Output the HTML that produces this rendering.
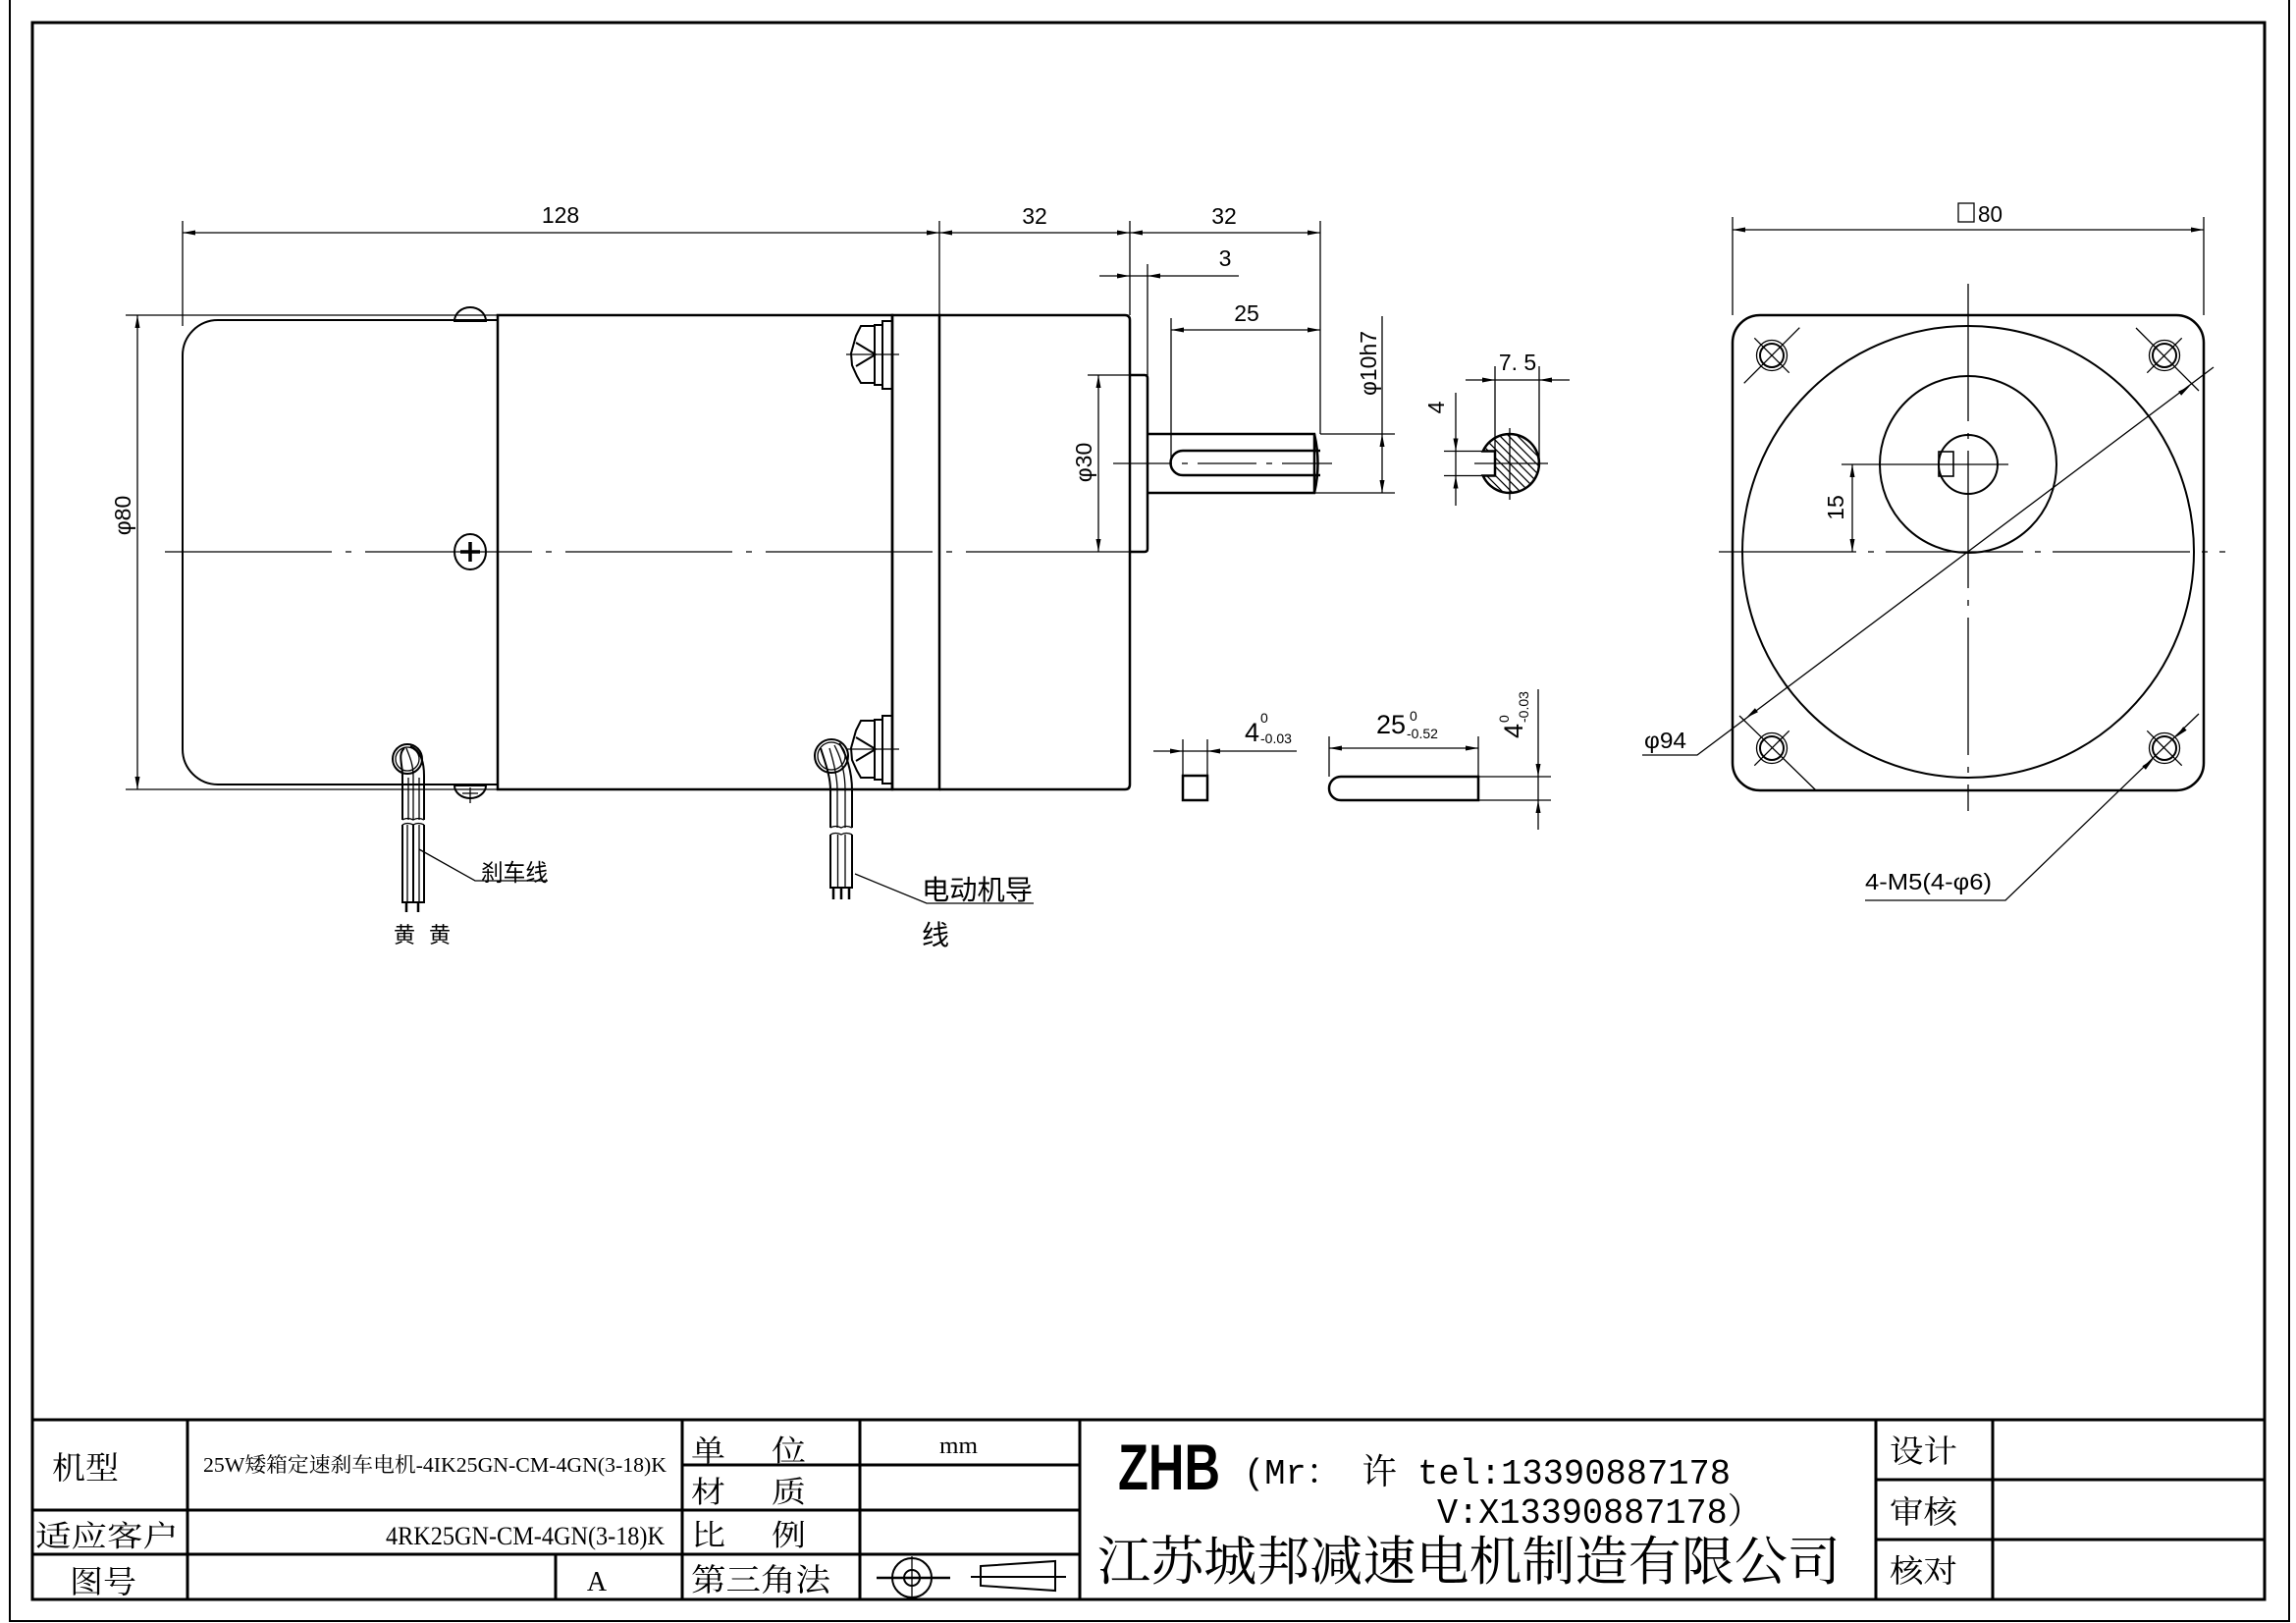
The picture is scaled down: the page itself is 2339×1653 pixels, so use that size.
<!DOCTYPE html>
<html><head><meta charset="utf-8"><style>
html,body{margin:0;padding:0;background:#fff;}
svg{display:block;}
.t{stroke:#000;stroke-width:1.3;fill:none}
.k{stroke:#000;stroke-width:2.5;fill:none}
.c{stroke:#000;stroke-width:1.3;fill:none;stroke-dasharray:170 14 6 14}
.a{fill:#000;stroke:none}
.d{font-family:"Liberation Sans Narrow","Liberation Sans",sans-serif;font-size:23px;fill:#000}
.cn{font-family:"Liberation Sans","Noto Sans CJK SC",sans-serif;fill:#000}
.sf{font-family:"Liberation Serif","Noto Serif CJK SC",serif;fill:#000}
.mo{font-family:"Liberation Mono","Noto Serif CJK SC",monospace;fill:#000}
</style></head><body>
<svg width="2339" height="1653" viewBox="0 0 2339 1653" xmlns="http://www.w3.org/2000/svg">
<defs>
<clipPath id="sec"><path d="M1510.7,459.5 H1523 V484.5 H1510.7 A30,30 0 1 0 1510.7,459.5 Z"/></clipPath>
</defs>
<!-- borders -->
<path d="M10,0 V1651 H2332 V0" stroke="#000" stroke-width="2" fill="none"/>
<rect x="33" y="23" width="2274" height="1606" stroke="#000" stroke-width="3" fill="none"/>

<!-- ===== main view ===== -->
<g class="k">
<path d="M507,326 H222 A36,36 0 0 0 186,362 V763 A36,36 0 0 0 222,799 H507" stroke-width="2"/>
<rect x="507" y="321" width="402" height="483"/>
<rect x="909" y="321" width="48" height="483"/>
<path d="M957,321 H1146 Q1151,321 1151,326 V799 Q1151,804 1146,804 H957"/>
<path d="M1151,382 H1166 Q1169,382 1169,385 V559 Q1169,562 1166,562 H1151"/>
<path d="M1169,442 H1339 Q1346,472 1339,502 H1169"/>
<line x1="1339" y1="442" x2="1339" y2="502"/>
<path d="M1345,459 H1205 A12.5,12.5 0 0 0 1205,484 H1345"/>
<!-- screws -->
<path d="M463,327 A16,14 0 0 1 495,327 Z" stroke-width="2"/>
<path d="M463,800 A16,13 0 0 0 495,800 Z" stroke-width="2"/>
<ellipse cx="479" cy="562" rx="16" ry="18" stroke-width="2"/>
<path d="M479,552 V572 M469,562 H489" stroke-width="3.5"/>
<!-- connectors -->
<rect x="899" y="327" width="10" height="69" stroke-width="2"/>
<rect x="891" y="331" width="8" height="61" stroke-width="2"/>
<path d="M891,332 H877 L872,342 L867,360 L868,372 L873,383 L877,390 H891" stroke-width="2"/>
<path d="M892,361 L872,349 M892,361 L872,373" stroke-width="2"/>
<rect x="899" y="729" width="10" height="69" stroke-width="2"/>
<rect x="891" y="733" width="8" height="61" stroke-width="2"/>
<path d="M891,734 H877 L872,744 L867,762 L868,774 L873,785 L877,792 H891" stroke-width="2"/>
<path d="M892,763 L872,751 M892,763 L872,775" stroke-width="2"/>
</g>
<g class="t">
<path d="M862,361 H916 M862,763 H916"/>
<path d="M479,802 V818 M471,808 H487"/>
<!-- extension lines -->
<path d="M186,225 V332 M957,225 V321 M1151,225 V321 M1345,225 V442 M1169,269 V382 M1193,324 V471"/>
<path d="M1345,442 H1421 M1339,502 H1421 M1108,382 H1151 M128,321 H507 M128,804 H507"/>
<!-- dimension lines -->
<path d="M186,237 H1345 M1120,281 H1262 M1193,336 H1345 M1408,322 V502 M1119,382 V562 M140,321 V804"/>
</g>
<line class="c" x1="168" y1="562" x2="1150" y2="562"/>
<line class="t" x1="1134" y1="472" x2="1357" y2="472" style="stroke-dasharray:60 10 6 10"/>
<g class="a">
<polygon points="186,237 199,234.5 199,239.5"/>
<polygon points="957,237 944,234.5 944,239.5"/>
<polygon points="957,237 970,234.5 970,239.5"/>
<polygon points="1151,237 1138,234.5 1138,239.5"/>
<polygon points="1151,237 1164,234.5 1164,239.5"/>
<polygon points="1345,237 1332,234.5 1332,239.5"/>
<polygon points="1151,281 1138,278.5 1138,283.5"/>
<polygon points="1169,281 1182,278.5 1182,283.5"/>
<polygon points="1193,336 1206,333.5 1206,338.5"/>
<polygon points="1345,336 1332,333.5 1332,338.5"/>
<polygon points="1408,442 1405.5,455 1410.5,455"/>
<polygon points="1408,502 1405.5,489 1410.5,489"/>
<polygon points="1119,382 1116.5,395 1121.5,395"/>
<polygon points="1119,562 1116.5,549 1121.5,549"/>
<polygon points="140,321 137.5,334 142.5,334"/>
<polygon points="140,804 137.5,791 142.5,791"/>
</g>
<text class="d" x="571" y="227" text-anchor="middle">128</text>
<text class="d" x="1054" y="228" text-anchor="middle">32</text>
<text class="d" x="1247" y="228" text-anchor="middle">32</text>
<text class="d" x="1248" y="271" text-anchor="middle">3</text>
<text class="d" x="1270" y="327" text-anchor="middle">25</text>
<text class="d" transform="translate(1402,370) rotate(-90)" text-anchor="middle" textLength="66" lengthAdjust="spacingAndGlyphs">φ10h7</text>
<text class="d" transform="translate(1112,471) rotate(-90)" text-anchor="middle">φ30</text>
<text class="d" transform="translate(133,525) rotate(-90)" text-anchor="middle">φ80</text>

<!-- wires: brake -->
<g class="t">
<circle cx="415" cy="773" r="15" stroke-width="2"/>
<circle cx="415" cy="773" r="12"/>
<path d="M410,835 V790 C410,778 405,768 412,762 M432,835 V790 C432,775 428,764 418,760" stroke-width="2"/>
<path d="M421,835 V790 C421,777 416,768 414,762 M416,835 V792 M427,835 V792"/>
<path d="M410,835 Q415,832 421,835 Q426,832 432,835 M410,840 Q415,837 421,840 Q426,837 432,840" />
<path d="M410,840 V919 H432 V840 M421,840 V919" stroke-width="2"/>
<path d="M415,840 V919 M427,840 V919"/>
<path d="M414,919 V929 M426,919 V929" stroke-width="2.5"/>
<path d="M427,865 L484,897 H558"/>
</g>
<!-- wires: motor -->
<g class="t">
<circle cx="847" cy="770" r="17" stroke-width="2"/>
<circle cx="847" cy="770" r="14"/>
<path d="M846,843 V805 C846,790 840,775 836,762 M868,843 V805 C868,785 862,768 855,757" stroke-width="2"/>
<path d="M853,843 V805 C853,790 849,775 845,762 M861,843 V805 C861,788 857,772 850,759"/>
<path d="M846,843 Q851,840 857,843 Q862,840 868,843 M846,850 Q851,847 857,850 Q862,847 868,850"/>
<path d="M846,850 V904 H868 V850" stroke-width="2"/>
<path d="M853.5,850 V904 M861,850 V904"/>
<path d="M849,904 V916 M857,904 V916 M865,904 V916" stroke-width="2.5"/>
<path d="M871,890 L944,920 H1053"/>
</g>
<text class="cn" x="490" y="897" font-size="24" textLength="68" lengthAdjust="spacingAndGlyphs">刹车线</text>
<text class="cn" x="401" y="960" font-size="22">黄</text>
<text class="cn" x="437" y="960" font-size="22">黄</text>
<text class="cn" x="939" y="916" font-size="28" textLength="113" lengthAdjust="spacingAndGlyphs">电动机导</text>
<text class="cn" x="939" y="962" font-size="28">线</text>

<!-- ===== shaft section ===== -->
<g clip-path="url(#sec)" class="t" stroke-width="1">
<path d="M1435,432 L1515,512 M1444,432 L1524,512 M1453,432 L1533,512 M1462,432 L1542,512 M1471,432 L1551,512 M1480,432 L1560,512 M1489,432 L1569,512 M1498,432 L1578,512 M1507,432 L1587,512 M1516,432 L1596,512 M1525,432 L1605,512 M1534,432 L1614,512 M1543,432 L1623,512 M1552,432 L1632,512 M1561,432 L1641,512"/>
</g>
<path class="k" d="M1510.7,459.5 H1523 V484.5 H1510.7 A30,30 0 1 0 1510.7,459.5 Z"/>
<g class="t">
<path d="M1502,472 H1577 M1538,436 V509"/>
<path d="M1493,387 H1599 M1523,373 V459 M1568,373 V472"/>
<path d="M1483,400 V515 M1471,459.5 H1510 M1471,484.5 H1510"/>
</g>
<g class="a">
<polygon points="1523,387 1510,384.5 1510,389.5"/>
<polygon points="1568,387 1581,384.5 1581,389.5"/>
<polygon points="1483,459.5 1480.5,446.5 1485.5,446.5"/>
<polygon points="1483,484.5 1480.5,497.5 1485.5,497.5"/>
</g>
<text class="d" x="1546" y="377" text-anchor="middle">7. 5</text>
<text class="d" transform="translate(1471,415) rotate(-90)" text-anchor="middle">4</text>

<!-- ===== key views ===== -->
<rect class="k" x="1205" y="790" width="25" height="25" stroke-width="2"/>
<path class="k" d="M1366,791 H1506 V815 H1366 A12,12 0 0 1 1366,791 Z" stroke-width="2"/>
<g class="t">
<path d="M1175,765 H1321 M1205,753 V790 M1230,753 V790"/>
<path d="M1354,762 H1506 M1354,750 V791 M1506,750 V791"/>
<path d="M1567,702 V845 M1506,791 H1580 M1506,815 H1580"/>
</g>
<g class="a">
<polygon points="1205,765 1192,762.5 1192,767.5"/>
<polygon points="1230,765 1243,762.5 1243,767.5"/>
<polygon points="1354,762 1367,759.5 1367,764.5"/>
<polygon points="1506,762 1493,759.5 1493,764.5"/>
<polygon points="1567,791 1564.5,778 1569.5,778"/>
<polygon points="1567,815 1564.5,828 1569.5,828"/>
</g>
<text class="d" x="1268" y="755" style="font-size:27px">4</text>
<text class="d" x="1284" y="736" style="font-size:14px">0</text>
<text class="d" x="1284" y="757" style="font-size:14px">-0.03</text>
<text class="d" x="1402" y="747" style="font-size:27px">25</text>
<text class="d" x="1436" y="734" style="font-size:14px">0</text>
<text class="d" x="1433" y="752" style="font-size:14px">-0.52</text>
<g transform="translate(1551,752) rotate(-90)">
<text class="d" x="0" y="0" style="font-size:27px">4</text>
<text class="d" x="16" y="-14" style="font-size:14px">0</text>
<text class="d" x="16" y="6" style="font-size:14px">-0.03</text>
</g>

<!-- ===== right view ===== -->
<g class="k">
<rect x="1765" y="321" width="480" height="484" rx="28" ry="28"/>
<circle cx="2005" cy="562" r="230" stroke-width="2"/>
<circle cx="2005" cy="473" r="90" stroke-width="2"/>
<circle cx="2005" cy="473" r="30" stroke-width="2"/>
<rect x="1975" y="460" width="15" height="25" stroke-width="1.6"/>
<circle cx="1805" cy="362" r="12" stroke-width="2"/>
<circle cx="2205" cy="362" r="12" stroke-width="2"/>
<circle cx="1805" cy="762" r="12" stroke-width="2"/>
<circle cx="2205" cy="762" r="12" stroke-width="2"/>
</g>
<g class="t">
<circle cx="1805" cy="362" r="15.5"/>
<circle cx="2205" cy="362" r="15.5"/>
<circle cx="1805" cy="762" r="15.5"/>
<circle cx="2205" cy="762" r="15.5"/>
<path d="M1776.7,390.3 L1833.3,333.7 M1787.3,344.3 L1822.7,379.7"/>
<path d="M2176,334 L2240,398 M2187.3,379.7 L2222.7,344.3"/>
<path d="M1772,729 L1850,805 M1787.3,779.7 L1822.7,744.3"/>
<path d="M2187.3,744.3 L2222.7,779.7"/>
<path d="M1876,473 H2046"/>
<path d="M1887,473 V562"/>
<path d="M1765,221 V321 M2245,221 V321 M1765,234 H2245"/>
<path d="M1673,769 H1729 L2255,374"/>
<path d="M1900,917 H2043 L2240,727"/>
<rect x="1995" y="207" width="16" height="19"/>
</g>
<line class="t" x1="1751" y1="562" x2="2267" y2="562" style="stroke-dasharray:140 12 6 12"/>
<line class="t" x1="2005" y1="289" x2="2005" y2="826" style="stroke-dasharray:140 12 6 12"/>
<g class="a">
<polygon points="1765,234 1778,231.5 1778,236.5"/>
<polygon points="2245,234 2232,231.5 2232,236.5"/>
<polygon points="1887,473 1884.5,486 1889.5,486"/>
<polygon points="1887,562 1884.5,549 1889.5,549"/>
<polygon points="2231,393 2222.1,402.8 2219.1,398.8"/>
<polygon points="1779,731 1790.9,725.2 1787.9,721.2"/>
<polygon points="2193.5,773.1 2185.9,783.9 2182.4,780.3"/>
<polygon points="2216.5,750.9 2227.6,743.7 2224.2,740.1"/>
</g>
<text class="d" x="2015" y="226" textLength="25" lengthAdjust="spacingAndGlyphs">80</text>
<text class="d" x="1675" y="762" textLength="43" lengthAdjust="spacingAndGlyphs">φ94</text>
<text class="d" transform="translate(1878,517) rotate(-90)" text-anchor="middle">15</text>
<text class="d" x="1900" y="906" textLength="129" lengthAdjust="spacingAndGlyphs">4-M5(4-φ6)</text>

<!-- ===== title block ===== -->
<g stroke="#000" stroke-width="3" fill="none">
<path d="M33,1446 H2307"/>
<path d="M191,1446 V1629 M695,1446 V1629 M876,1446 V1629 M1100,1446 V1629 M1911,1446 V1629 M2030,1446 V1629"/>
<path d="M33,1538 H1100 M33,1583 H1100 M695,1492 H1100 M566,1583 V1629"/>
<path d="M1911,1507 H2307 M1911,1568 H2307"/>
</g>
<g class="sf">
<text x="53" y="1506" font-size="32" textLength="68" lengthAdjust="spacingAndGlyphs">机型</text>
<text x="36" y="1575" font-size="30" textLength="146" lengthAdjust="spacingAndGlyphs">适应客户</text>
<text x="71" y="1622" font-size="32" textLength="68" lengthAdjust="spacingAndGlyphs">图号</text>
<text x="207" y="1499" font-size="21" textLength="472" lengthAdjust="spacingAndGlyphs">25W矮箱定速刹车电机-4IK25GN-CM-4GN(3-18)K</text>
<text x="393" y="1573" font-size="26" textLength="284" lengthAdjust="spacingAndGlyphs">4RK25GN-CM-4GN(3-18)K</text>
<text x="608" y="1620" font-size="28" text-anchor="middle">A</text>
<text x="704" y="1488" font-size="30" textLength="35" lengthAdjust="spacingAndGlyphs">单</text>
<text x="786" y="1488" font-size="30" textLength="35" lengthAdjust="spacingAndGlyphs">位</text>
<text x="704" y="1530" font-size="30" textLength="35" lengthAdjust="spacingAndGlyphs">材</text>
<text x="786" y="1530" font-size="30" textLength="35" lengthAdjust="spacingAndGlyphs">质</text>
<text x="704" y="1574" font-size="30" textLength="35" lengthAdjust="spacingAndGlyphs">比</text>
<text x="786" y="1574" font-size="30" textLength="35" lengthAdjust="spacingAndGlyphs">例</text>
<text x="704" y="1620" font-size="32" textLength="142" lengthAdjust="spacingAndGlyphs">第三角法</text>
<text x="957" y="1480" font-size="24" textLength="39" lengthAdjust="spacingAndGlyphs">mm</text>
<text x="1118" y="1609" font-size="54" textLength="757" lengthAdjust="spacingAndGlyphs">江苏城邦减速电机制造有限公司</text>
<text x="1925" y="1489" font-size="32" textLength="69" lengthAdjust="spacingAndGlyphs">设计</text>
<text x="1925" y="1551" font-size="32" textLength="69" lengthAdjust="spacingAndGlyphs">审核</text>
<text x="1925" y="1611" font-size="32" textLength="69" lengthAdjust="spacingAndGlyphs">核对</text>
</g>
<text x="1139" y="1517" font-family="Liberation Sans Narrow, Liberation Sans, sans-serif" font-weight="bold" font-size="66" textLength="104" lengthAdjust="spacingAndGlyphs" fill="#000">ZHB</text>
<text class="mo" x="1267" y="1511" font-size="36" textLength="496" lengthAdjust="spacingAndGlyphs">(Mr： 许 tel:13390887178</text>
<text class="mo" x="1464" y="1551" font-size="36" textLength="331" lengthAdjust="spacingAndGlyphs">V:X13390887178）</text>
<!-- projection symbol -->
<g stroke="#000" fill="none">
<circle cx="929" cy="1607" r="20" stroke-width="2"/>
<circle cx="929" cy="1607" r="8" stroke-width="2"/>
<line x1="893" y1="1607" x2="968" y2="1607" stroke-width="2.5"/>
<line x1="929" y1="1585" x2="929" y2="1629" stroke-width="1.3"/>
<path d="M999,1595 L1075,1590 V1620 L999,1615 Z" stroke-width="2"/>
<line x1="989" y1="1606" x2="1086" y2="1606" stroke-width="2"/>
</g>
</svg>
</body></html>
